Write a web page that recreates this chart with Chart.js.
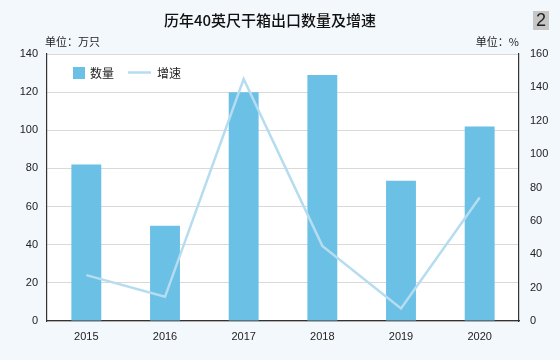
<!DOCTYPE html>
<html><head><meta charset="utf-8">
<script src="https://cdn.jsdelivr.net/npm/chart.js@4"></script>
<style>
html,body{margin:0;padding:0;background:#f3f8fc;}
#wrap{position:relative;width:560px;height:360px;}
canvas{display:block;}
</style></head>
<body><div id="wrap"><canvas id="c" width="560" height="360"></canvas></div>
<script>
const categories = ['2015','2016','2017','2018','2019','2020'];
const quantity = [82, 50, 120, 129, 73.5, 102];
const growth = [27.5, 14.5, 145, 45, 7.5, 74];
const leftTicks = [0,20,40,60,80,100,120,140];
const rightTicks = [0,20,40,60,80,100,120,140,160];
const title = '历年40英尺干箱出口数量及增速';
const barColor = '#6bc0e6';
const lineColor = '#b5dcef';
const FONT = "'Liberation Sans','Noto Sans CJK SC',sans-serif";
const CJK = "'Noto Sans CJK SC','Liberation Sans',sans-serif";

const deco = {
  id:'deco',
  beforeDraw(chart){
    const {ctx, chartArea:a} = chart;
    ctx.save();
    ctx.fillStyle='#ffffff';
    ctx.fillRect(a.left,a.top,a.right-a.left,a.bottom-a.top);
    ctx.restore();
  },
  afterDraw(chart){
    const {ctx, chartArea:a} = chart;
    ctx.save();
    // title
    ctx.fillStyle='#111';
    ctx.font="500 15px "+CJK;
    ctx.textAlign='center'; ctx.textBaseline='middle';
    ctx.fillText(title, 270, 20);
    // box 2
    ctx.fillStyle='#c6c6c6';
    ctx.fillRect(533,11,16,19);
    ctx.fillStyle='#222';
    ctx.font="18px "+FONT;
    ctx.fillText('2', 541, 21);
    // units
    ctx.font="11px "+CJK;
    ctx.fillStyle='#222';
    ctx.textAlign='left';
    ctx.fillText('单位：万只', 45, 42);
    ctx.textAlign='right';
    ctx.fillText('单位：%', 519, 42);
    // legend
    ctx.fillStyle=barColor;
    ctx.fillRect(73,67,12,12);
    ctx.fillStyle='#222';
    ctx.textAlign='left';
    ctx.font="12px "+CJK;
    ctx.fillText('数量', 90, 73);
    ctx.strokeStyle=lineColor; ctx.lineWidth=2.5;
    ctx.beginPath(); ctx.moveTo(128,72.5); ctx.lineTo(151,72.5); ctx.stroke();
    ctx.fillText('增速', 157, 73);
    ctx.restore();
  }
};

new Chart(document.getElementById('c'), {
  data:{
    labels: categories,
    datasets:[
      {type:'line', label:'增速', data:growth, yAxisID:'y1', borderColor:lineColor, borderWidth:2.5, pointRadius:0, tension:0, order:0},
      {type:'bar', label:'数量', data:quantity, yAxisID:'y', backgroundColor:barColor, barPercentage:0.38, categoryPercentage:1, order:1}
    ]
  },
  options:{
    responsive:false, animation:false, devicePixelRatio:1,
    layout:{padding:{top:54,left:0,right:0,bottom:0}},
    plugins:{legend:{display:false}, tooltip:{enabled:false}, title:{display:false}},
    scales:{
      x:{
        grid:{display:false, drawTicks:false},
        border:{color:'#333', width:1.2},
        ticks:{color:'#222', font:{size:11, family:FONT}, padding:9},
        afterFit(s){ s.height = 39; }
      },
      y:{
        position:'left', min:0, max:140,
        afterBuildTicks(s){ s.ticks = leftTicks.map(v=>({value:v})); },
        grid:{color:'#d9d9d9', drawTicks:false, lineWidth:1},
        border:{color:'#333', width:1.2},
        ticks:{color:'#222', font:{size:11, family:FONT}, padding:9},
        afterFit(s){ s.width = 47; }
      },
      y1:{
        position:'right', min:0, max:160,
        afterBuildTicks(s){ s.ticks = rightTicks.map(v=>({value:v})); },
        grid:{display:false, drawTicks:false},
        border:{color:'#333', width:1.2},
        ticks:{color:'#222', font:{size:11, family:FONT}, padding:11},
        afterFit(s){ s.width = 41; }
      }
    }
  },
  plugins:[deco]
});
</script></body></html>
